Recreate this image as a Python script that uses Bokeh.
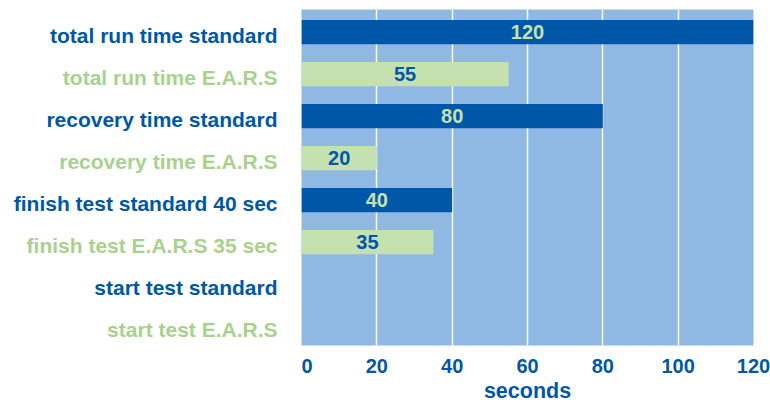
from bokeh.plotting import figure
from bokeh.models import FactorRange, Range1d, FixedTicker, ColumnDataSource
from bokeh.layouts import row
from bokeh.core.properties import value
from bokeh.transform import dodge
from bokeh.embed import file_html
from bokeh.resources import INLINE

categories = ["total run time standard", "total run time E.A.R.S",
              "recovery time standard", "recovery time E.A.R.S",
              "finish test standard 40 sec", "finish test E.A.R.S 35 sec",
              "start test standard", "start test E.A.R.S"]
series = ["standard", "E.A.R.S", "standard", "E.A.R.S",
          "standard", "E.A.R.S", "standard", "E.A.R.S"]
seconds = [120, 55, 80, 20, 40, 35, 0, 0]
x_ticks = [0, 20, 40, 60, 80, 100, 120]

DARK = "#0057a8"
LIGHT = "#c6e1b0"
LABEL_GREEN = "#a8d28c"
BG = "#8fb9e3"
FONT = "Liberation Sans"

bar_color = {"standard": DARK, "E.A.R.S": LIGHT}
val_color = {"standard": LIGHT, "E.A.R.S": DARK}
cat_color = {"standard": DARK, "E.A.R.S": LABEL_GREEN}

src = ColumnDataSource(dict(
    cat=categories, val=seconds,
    fill=[bar_color[s] for s in series],
    lcol=[cat_color[s] for s in series],
))
nz = [i for i, v in enumerate(seconds) if v > 0]
lab_src = ColumnDataSource(dict(
    cat=[categories[i] for i in nz],
    half=[seconds[i] / 2 for i in nz],
    txt=[str(seconds[i]) for i in nz],
    tcol=[val_color[series[i]] for i in nz],
))

y_range = FactorRange(factors=list(reversed(categories)))

p = figure(width=469, height=405, y_range=y_range, x_range=Range1d(0, 120),
           output_backend="svg", toolbar_location=None,
           min_border_left=0, min_border_right=17, min_border_top=9,
           min_border_bottom=49)
p.background_fill_color = BG
p.border_fill_color = "white"
p.outline_line_color = None
p.hbar(y=dodge("cat", -0.04, range=y_range), left=0, right="val", height=0.58,
       fill_color="fill", line_color=None, source=src)
p.text(x="half", y=dodge("cat", -0.04, range=y_range), text="txt",
       text_color="tcol", source=lab_src,
       text_align="center", text_baseline="middle",
       text_font=value(FONT), text_font_style="bold", text_font_size="20px")

p.yaxis.visible = False
p.ygrid.grid_line_color = None
p.xgrid.grid_line_color = "white"
p.xgrid.grid_line_width = 1.5
p.xaxis.ticker = FixedTicker(ticks=x_ticks)
p.xaxis.axis_line_color = None
p.xaxis.major_tick_line_color = None
p.xaxis.minor_tick_line_color = None
p.xaxis.major_label_standoff = 7
p.xaxis.major_label_text_font = FONT
p.xaxis.major_label_text_font_style = "bold"
p.xaxis.major_label_text_font_size = "20px"
p.xaxis.major_label_text_color = DARK
p.xaxis.axis_label = "seconds"
p.xaxis.axis_label_standoff = 3
p.xaxis.axis_label_text_font = FONT
p.xaxis.axis_label_text_font_style = "bold"
p.xaxis.axis_label_text_font_size = "21.5px"
p.xaxis.axis_label_text_color = DARK

lbl = figure(width=301, height=405, y_range=y_range, x_range=Range1d(0, 1),
             output_backend="svg", toolbar_location=None,
             min_border_left=0, min_border_right=0, min_border_top=9,
             min_border_bottom=49)
lbl.axis.visible = False
lbl.grid.grid_line_color = None
lbl.outline_line_color = None
lbl.background_fill_color = "white"
lbl.text(x=1, y=dodge("cat", -0.11, range=y_range), text="cat",
         text_color="lcol", source=src,
         x_offset=-24, text_align="right", text_baseline="middle",
         text_font=value(FONT), text_font_style="bold", text_font_size="21px")

layout = row(lbl, p)
open("out.html", "w").write(file_html(layout, INLINE))
